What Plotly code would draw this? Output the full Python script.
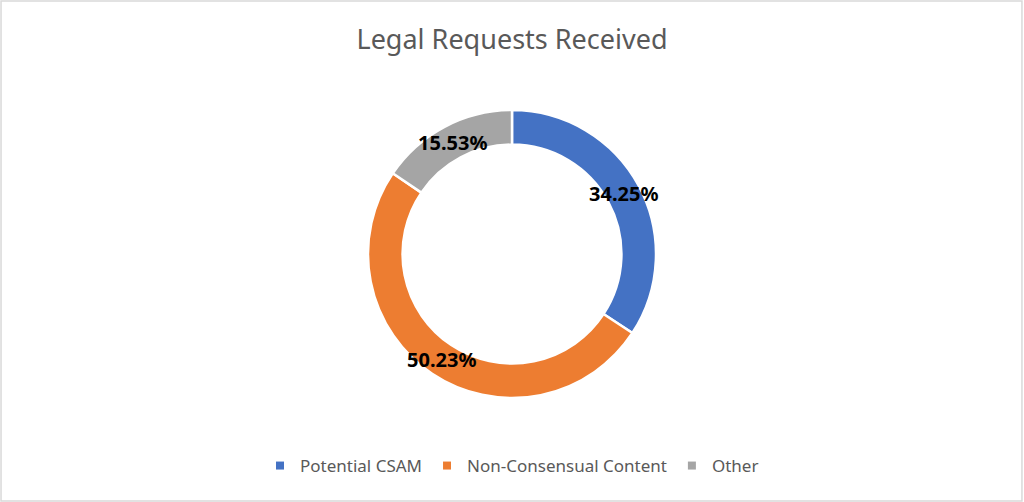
import math
import plotly.graph_objects as go

categories = ["Potential CSAM", "Non-Consensual Content", "Other"]
values = [34.25, 50.23, 15.53]
label_texts = ["34.25%", "50.23%", "15.53%"]
colors = ["#4472C4", "#ED7D31", "#A5A5A5"]

W, H = 1024, 502
cx, cy, R = 512, 254, 144
hole = 0.76

fig = go.Figure(go.Pie(
    labels=categories,
    values=values,
    hole=hole,
    sort=False,
    direction="clockwise",
    rotation=0,
    textinfo="none",
    hoverinfo="label+percent",
    showlegend=False,
    marker=dict(colors=colors, line=dict(color="white", width=2.5)),
    domain=dict(x=[(cx - R) / W, (cx + R) / W], y=[(H - cy - R) / H, (H - cy + R) / H]),
))

# legend entries with small square markers (as in the reference)
for name, col in zip(categories, colors):
    fig.add_trace(go.Scatter(x=[None], y=[None], mode="markers", name=name,
                             marker=dict(symbol="square", size=8, color=col),
                             hoverinfo="skip"))

# data labels at the middle of the ring, at each slice's mid angle
total = sum(values)
acc = 0.0
r_mid = R * (1 + hole) / 2
for v, t in zip(values, label_texts):
    mid = (acc + v / 2) / total * 2 * math.pi
    acc += v
    px = cx + r_mid * math.sin(mid)
    py = cy - r_mid * math.cos(mid)
    fig.add_annotation(x=px / W, y=1 - py / H, xref="paper", yref="paper",
                       xanchor="center", yanchor="middle",
                       text=t, showarrow=False,
                       font=dict(family="Noto Sans", size=20, color="#000000", weight="bold"))

fig.update_layout(
    width=W, height=H,
    margin=dict(l=0, r=0, t=0, b=0),
    paper_bgcolor="white",
    plot_bgcolor="white",
    font=dict(family="Noto Sans", color="#595959"),
    xaxis=dict(visible=False),
    yaxis=dict(visible=False),
    title=dict(text="Legal Requests Received", x=0.5, xanchor="center",
               y=1 - 40 / H, yanchor="middle",
               font=dict(family="Noto Sans", size=27, color="#595959")),
    legend=dict(orientation="h", x=0.5, xanchor="center", y=1 - 466 / H, yanchor="middle",
                font=dict(family="Noto Sans", size=17, color="#595959"),
                itemclick=False, itemdoubleclick=False),
    shapes=[dict(type="rect", xref="paper", yref="paper", x0=0.001, x1=0.998, y0=0.002, y1=0.998,
                 line=dict(color="#D9D9D9", width=1.5))],
)

fig.write_html("out.html", config={"displayModeBar": False},
               post_script="document.body.style.margin='0';")
